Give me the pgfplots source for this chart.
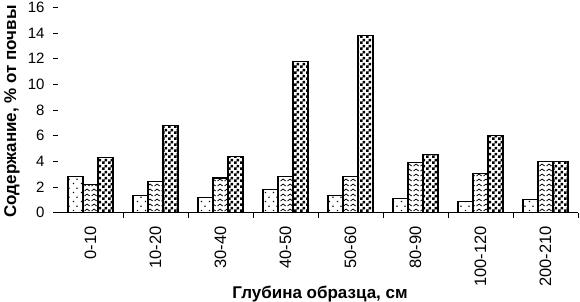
\documentclass[border=0pt]{standalone}
\usepackage{pgfplots}
\pgfplotsset{compat=1.18}
\usepackage{fontspec}
\setmainfont{Liberation Sans}
\usetikzlibrary{patterns}

\pgfdeclarepatternformonly{sparsedots}{\pgfpointorigin}{\pgfqpoint{8pt}{9pt}}{\pgfqpoint{8pt}{9pt}}{%
  \pgfpathrectangle{\pgfqpoint{1pt}{1pt}}{\pgfqpoint{1.3pt}{1.3pt}}%
  \pgfpathrectangle{\pgfqpoint{5pt}{5.5pt}}{\pgfqpoint{1.3pt}{1.3pt}}%
  \pgfusepath{fill}}
\pgfdeclarepatternformonly{waves}{\pgfqpoint{0pt}{0pt}}{\pgfqpoint{7pt}{5pt}}{\pgfqpoint{7pt}{5pt}}{%
  \pgfsetlinewidth{0.9pt}%
  \pgfpathmoveto{\pgfqpoint{0.6pt}{1.2pt}}%
  \pgfpathcurveto{\pgfqpoint{1.8pt}{4.2pt}}{\pgfqpoint{5.2pt}{4.2pt}}{\pgfqpoint{6.4pt}{1.2pt}}%
  \pgfusepath{stroke}}
\pgfdeclarepatternformonly{checks}{\pgfpointorigin}{\pgfqpoint{6pt}{6pt}}{\pgfqpoint{6pt}{6pt}}{%
  \pgfpathrectangle{\pgfqpoint{0pt}{0pt}}{\pgfqpoint{3pt}{3pt}}%
  \pgfpathrectangle{\pgfqpoint{3pt}{3pt}}{\pgfqpoint{3pt}{3pt}}%
  \pgfusepath{fill}}

\begin{document}
\begin{tikzpicture}
\begin{axis}[
  scale only axis,
  width=520pt, height=205.4pt,
  ybar, bar width=15pt,
  xmin=-0.5, xmax=7.5,
  ymin=0, ymax=16,
  axis x line=bottom, axis y line=left,
  x axis line style={-, line width=1pt},
  y axis line style={draw=none},
  ytick={0,2,...,16},
  xtick={0.5,1.5,...,7.5},
  xticklabels={},
  tick align=outside,
  major tick length=5pt,
  tick style={black, line width=0.8pt},
  extra x ticks={0,1,...,7},
  extra x tick labels={0-10,10-20,30-40,40-50,50-60,80-90,100-120,200-210},
  extra x tick style={major tick length=0pt, tick style={draw=none}},
  xticklabel style={rotate=90, anchor=east, font=\fontsize{16.5}{17}\selectfont, xshift=-10pt},
  yticklabel style={font=\fontsize{15}{16}\selectfont, xshift=-5pt},
  /pgf/number format/assume math mode=true,
  ylabel={\textbf{Содержание, \% от почвы}},
  xlabel={\textbf{Глубина образца, см}},
  label style={font=\fontsize{17}{19}\selectfont},
  ylabel style={at={(axis description cs:-0.067,0.493)}, anchor=south},
  xlabel style={at={(axis description cs:0.504,-0.34)}, anchor=north},
  every axis plot/.append style={draw=black, line width=1.1pt},
]
\addplot[pattern=sparsedots, bar shift=-15pt] coordinates {(0,2.8) (1,1.35) (2,1.2) (3,1.8) (4,1.35) (5,1.1) (6,0.9) (7,1.0)};
\addplot[pattern=waves, bar shift=0pt] coordinates {(0,2.2) (1,2.45) (2,2.7) (3,2.85) (4,2.85) (5,3.9) (6,3.05) (7,4.0)};
\addplot[pattern=checks, bar shift=15pt] coordinates {(0,4.3) (1,6.8) (2,4.4) (3,11.8) (4,13.8) (5,4.55) (6,6.0) (7,4.0)};
\end{axis}
\pgfresetboundingbox
\path[use as bounding box] (-58pt,-89pt) rectangle (522pt,212.7pt);
\end{tikzpicture}
\end{document}
